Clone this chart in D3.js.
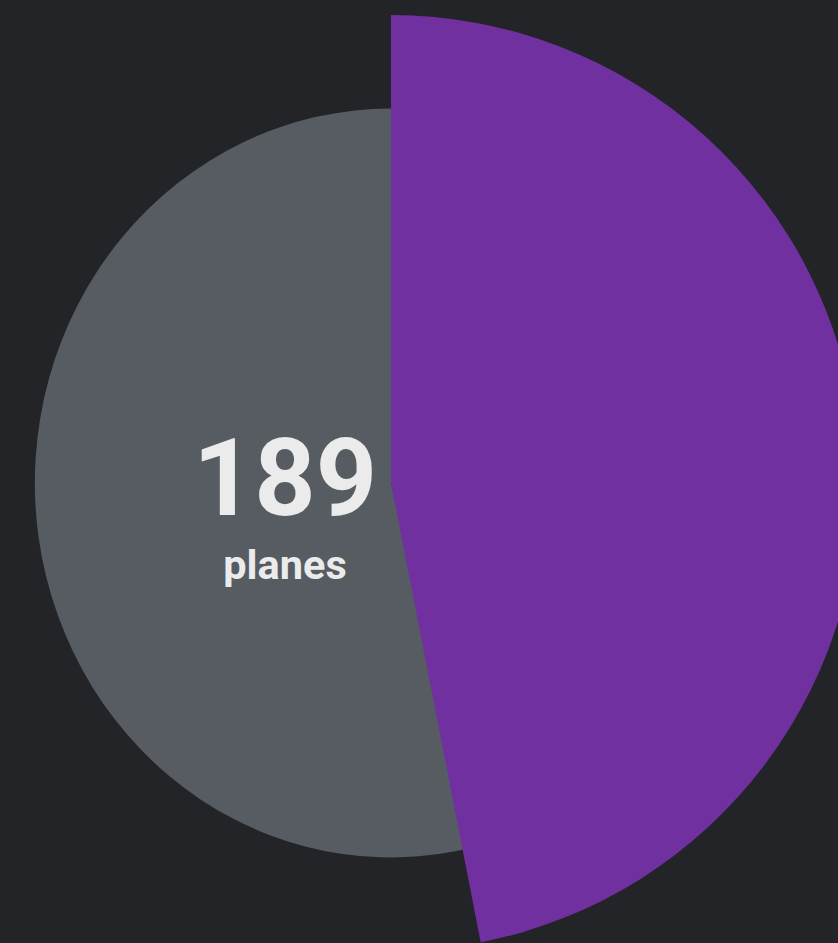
<!DOCTYPE html>
<html>
<head>
<meta charset="UTF-8">
<script src="https://cdn.jsdelivr.net/npm/d3@7"></script>
<style>
  html, body { margin: 0; padding: 0; background: #232428; }
  svg { display: block; }
</style>
</head>
<body>
<svg id="chart"></svg>
<script>
// data
const categories = ["used", "remaining"];
const values = [88.7, 100.3];
const unitLabel = "planes";

const width = 838, height = 943;
const cx = 391, cy = 483;

const color = d3.scaleOrdinal(categories, ["#7030a0", "#575c62"]);
// each slice has its own outer radius
const radius = d3.scaleOrdinal(categories, [468, 374.5]);

const svg = d3.select("#chart").attr("width", width).attr("height", height);
svg.append("rect").attr("width", width).attr("height", height).attr("fill", "#232428");

const pie = d3.pie().sort(null).value(d => d.value);
const slices = pie(categories.map((c, i) => ({ name: c, value: values[i] })));

const g = svg.append("g").attr("transform", `translate(${cx},${cy})`);

// grey slice first (slightly narrower horizontally, like the original), purple on top
const grey = slices[1];
g.append("path")
    .attr("d", d3.arc().innerRadius(0).outerRadius(radius(grey.data.name))
        ({ startAngle: grey.startAngle - 0.1, endAngle: grey.endAngle }))
    .attr("transform", "scale(0.951,1)")
    .attr("fill", color(grey.data.name));

const purple = slices[0];
g.append("path")
    .attr("d", d3.arc().innerRadius(0).outerRadius(radius(purple.data.name))(purple))
    .attr("fill", color(purple.data.name));

// centre label
const label = svg.append("g").attr("transform", `translate(${cx - 106},0)`)
    .attr("font-family", "Roboto, sans-serif").attr("font-weight", 700)
    .attr("fill", "#ebebeb").attr("text-anchor", "middle");
label.append("text").attr("y", 515).attr("font-size", 107).text(Math.round(d3.sum(values)));
label.append("text").attr("y", 579).attr("font-size", 41.5).text(unitLabel);
</script>
</body>
</html>
